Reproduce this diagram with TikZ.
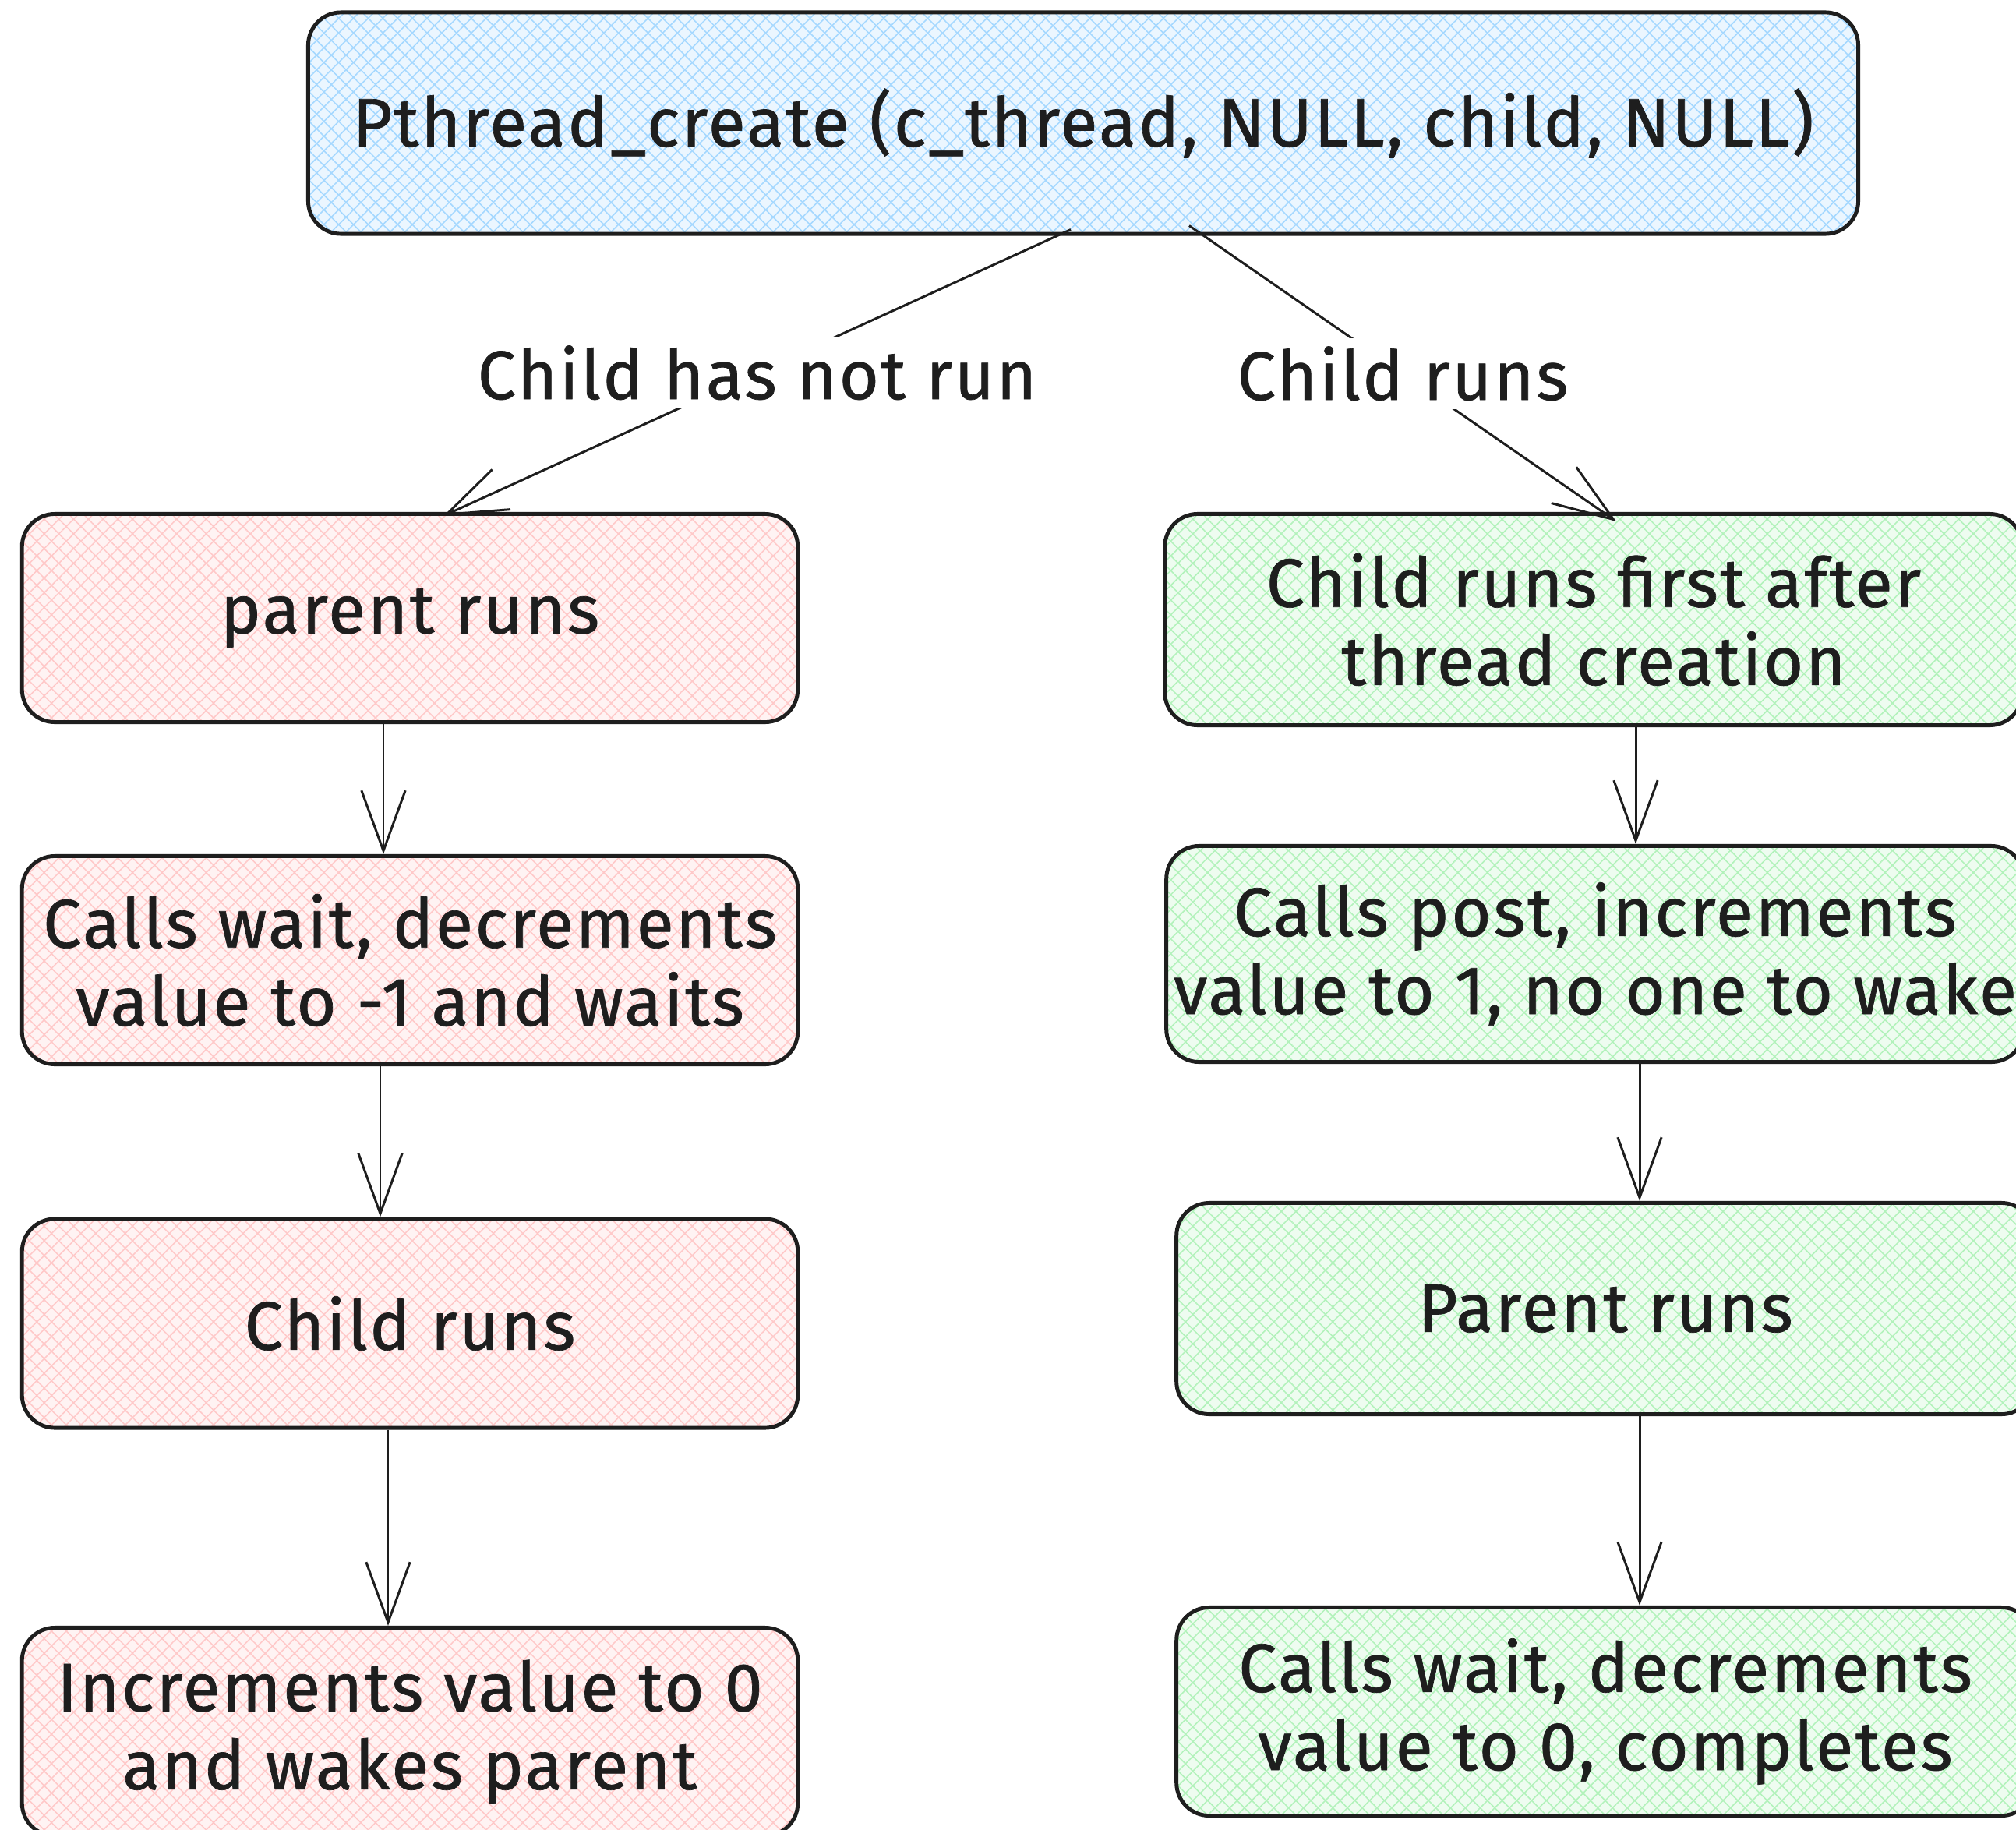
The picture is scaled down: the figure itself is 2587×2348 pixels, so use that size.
\documentclass[tikz,border=0pt]{standalone}
\usepackage{fontspec}
\setmainfont{Fira Sans}[LetterSpace=3, FakeBold=0.8]
\usetikzlibrary{arrows.meta,patterns.meta,calc}
\definecolor{blueline}{HTML}{A5D8FF}
\definecolor{pinkline}{HTML}{FFC9C9}
\definecolor{greenline}{HTML}{B2F2BB}
\definecolor{ink}{HTML}{1E1E1E}
\newcommand{\txtsize}{\fontsize{25}{28.5}\selectfont}
\tikzset{
  box/.style={draw=ink, line width=1.4pt, rounded corners=12pt, inner sep=0pt,
    align=center, font=\txtsize, text=ink},
  hatched/.style={
    preaction={fill=#1!22},
    preaction={pattern={Lines[angle=45,distance=3.8pt,line width=0.45pt]}, pattern color=#1},
    preaction={pattern={Lines[angle=-45,distance=3.8pt,line width=0.45pt]}, pattern color=#1}},
  bluebox/.style={box, hatched=blueline},
  pinkbox/.style={box, hatched=pinkline},
  greenbox/.style={box, hatched=greenline},
  conn/.style={draw=ink, line width=0.85pt,
    -{Straight Barb[length=22pt,width=16pt,line width=0.85pt]}},
  lbl/.style={fill=white, inner sep=3pt, font=\txtsize, text=ink}
}
\begin{document}
\begin{tikzpicture}[x=0.01cm, y=-0.01cm]
\useasboundingbox (0,0) rectangle (2587,2348);
\clip (0,0) rectangle (2587,2348);
\fill[white] (0,0) rectangle (2587,2348);

% top
\node[bluebox, minimum width=19.88cm, minimum height=2.84cm] (top) at (1390,158)
  {Pthread\_create (c\_thread, NULL, child, NULL)};

% left column
\node[pinkbox, minimum width=9.95cm, minimum height=2.67cm] (P1) at (526,793)
  {parent runs};
\node[pinkbox, minimum width=9.95cm, minimum height=2.67cm] (P2) at (526,1232)
  {Calls wait, decrements\\value to -1 and waits};
\node[pinkbox, minimum width=9.95cm, minimum height=2.68cm] (P3) at (526,1698)
  {Child runs};
\node[pinkbox, minimum width=9.95cm, minimum height=2.67cm] (P4) at (526,2222)
  {Increments value to 0\\and wakes parent};

% right column
\node[greenbox, minimum width=11.0cm, minimum height=2.71cm] (R1) at (2045,795)
  {Child runs first after\\thread creation};
\node[greenbox, minimum width=11.0cm, minimum height=2.77cm] (R2) at (2047,1224)
  {Calls post, increments\\value to 1, no one to wake};
\node[greenbox, minimum width=11.0cm, minimum height=2.71cm] (R3) at (2060,1679)
  {Parent runs};
\node[greenbox, minimum width=11.0cm, minimum height=2.67cm] (R4) at (2060,2196)
  {Calls wait, decrements\\value to 0, completes};

% branch connectors
\coordinate (s1) at ($(top.south)+(-16,-8)$);
\coordinate (e1) at ($(P1.north)+(43,5)$);
\coordinate (s2) at ($(top.south)+(136,-13)$);
\coordinate (e2) at ($(R1.north)+(29,12)$);
\draw[conn] (s1) -- node[lbl] {Child has not run} (e1);
\draw[conn] (s2) -- node[lbl] {Child runs} (e2);

% left verticals
\coordinate (a1) at ($(P1.south)+(-34,0)$);
\coordinate (a2) at ($(P2.south)+(-38,0)$);
\coordinate (a3) at ($(P3.south)+(-28,0)$);
\draw[conn] (a1) -- (a1 |- P2.north);
\draw[conn] (a2) -- (a2 |- P3.north);
\draw[conn] (a3) -- (a3 |- P4.north);

% right verticals
\coordinate (b1) at ($(R1.south)+(54,0)$);
\coordinate (b2) at ($(R2.south)+(57,0)$);
\coordinate (b3) at ($(R3.south)+(44,0)$);
\draw[conn] (b1) -- (b1 |- R2.north);
\draw[conn] (b2) -- (b2 |- R3.north);
\draw[conn] (b3) -- (b3 |- R4.north);
\end{tikzpicture}
\end{document}
